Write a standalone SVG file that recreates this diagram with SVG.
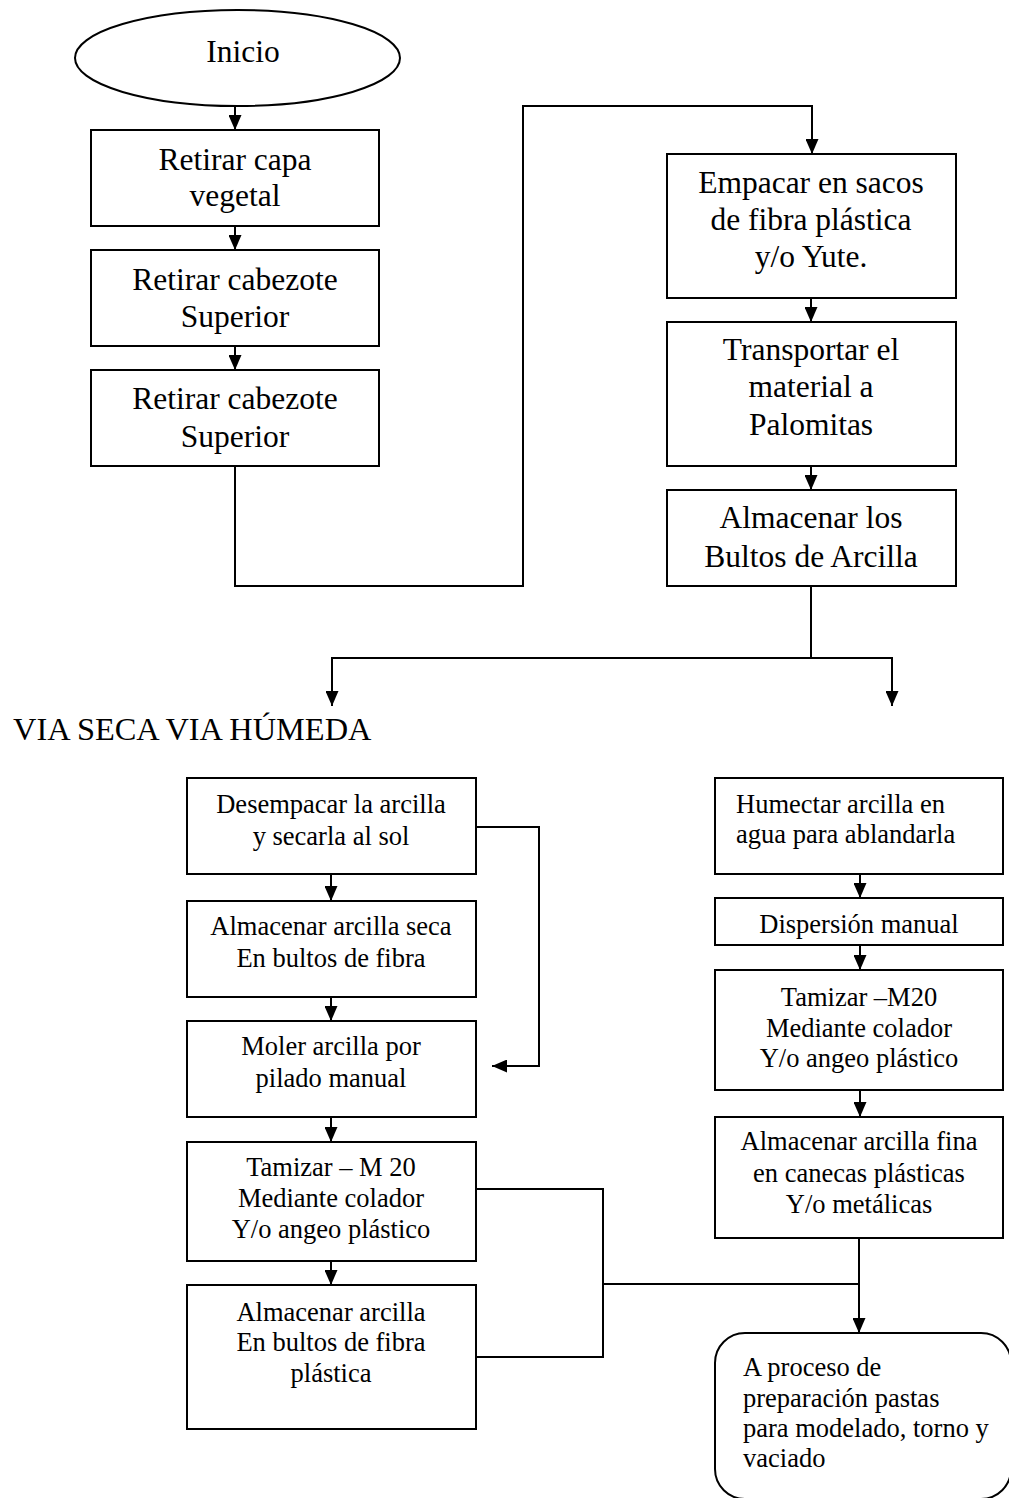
<svg xmlns="http://www.w3.org/2000/svg" width="1009" height="1498" viewBox="0 0 1009 1498">
<defs>
<style>
.b{fill:#fff;stroke:#000;stroke-width:2}
.c{fill:none;stroke:#000;stroke-width:2}
.t{font-family:"Liberation Serif","Times New Roman",serif;fill:#000}
.L{font-size:31.5px;text-anchor:middle}
.S{font-size:26.5px;text-anchor:middle}
.SL{font-size:26.5px}
</style>
<marker id="ah" viewBox="0 0 15 13" refX="15" refY="6.5" markerWidth="15" markerHeight="13" markerUnits="userSpaceOnUse" orient="auto">
<path d="M0,0 L15,6.5 L0,13 z" fill="#000"/>
</marker>
</defs>
<rect width="1009" height="1498" fill="#fff"/>
<g id="connectors">
<path class="c" d="M235,106 V130" marker-end="url(#ah)"/>
<path class="c" d="M235,226 V250" marker-end="url(#ah)"/>
<path class="c" d="M235,346 V370" marker-end="url(#ah)"/>
<path class="c" d="M235,466 V586 H523 V106 H812 V154" marker-end="url(#ah)"/>
<path class="c" d="M811,298 V322" marker-end="url(#ah)"/>
<path class="c" d="M811,466 V490" marker-end="url(#ah)"/>
<path class="c" d="M811,586 V658"/>
<path class="c" d="M811,658 H332 V706" marker-end="url(#ah)"/>
<path class="c" d="M811,658 H892 V706" marker-end="url(#ah)"/>
<path class="c" d="M331,874 V901" marker-end="url(#ah)"/>
<path class="c" d="M331,997 V1021" marker-end="url(#ah)"/>
<path class="c" d="M331,1117 V1142" marker-end="url(#ah)"/>
<path class="c" d="M331,1261 V1285" marker-end="url(#ah)"/>
<path class="c" d="M476,827 H539 V1066 H492" marker-end="url(#ah)"/>
<path class="c" d="M476,1189 H603 V1357 H476"/>
<path class="c" d="M603,1284 H859"/>
<path class="c" d="M859,1238 V1333" marker-end="url(#ah)"/>
<path class="c" d="M860,874 V898" marker-end="url(#ah)"/>
<path class="c" d="M860,945 V970" marker-end="url(#ah)"/>
<path class="c" d="M860,1090 V1117" marker-end="url(#ah)"/>
</g>
<g id="inicio">
<ellipse class="b" cx="237.5" cy="58" rx="162.5" ry="48"/>
<text class="t L" x="243" y="62">Inicio</text>
</g>
<g id="retirar-capa">
<rect class="b" x="91" y="130" width="288" height="96"/>
<text class="t L" x="235" y="170">Retirar capa</text>
<text class="t L" x="235" y="206">vegetal</text>
</g>
<g id="retirar-cabezote-1">
<rect class="b" x="91" y="250" width="288" height="96"/>
<text class="t L" x="235" y="290">Retirar cabezote</text>
<text class="t L" x="235" y="327">Superior</text>
</g>
<g id="retirar-cabezote-2">
<rect class="b" x="91" y="370" width="288" height="96"/>
<text class="t L" x="235" y="409">Retirar cabezote</text>
<text class="t L" x="235" y="447">Superior</text>
</g>
<g id="empacar">
<rect class="b" x="667" y="154" width="289" height="144"/>
<text class="t L" x="811" y="193">Empacar en sacos</text>
<text class="t L" x="811" y="230">de fibra plástica</text>
<text class="t L" x="811" y="267">y/o Yute.</text>
</g>
<g id="transportar">
<rect class="b" x="667" y="322" width="289" height="144"/>
<text class="t L" x="811" y="360">Transportar el</text>
<text class="t L" x="811" y="397">material a</text>
<text class="t L" x="811" y="435">Palomitas</text>
</g>
<g id="almacenar-bultos">
<rect class="b" x="667" y="490" width="289" height="96"/>
<text class="t L" x="811" y="528">Almacenar los</text>
<text class="t L" x="811" y="567">Bultos de Arcilla</text>
</g>
<g id="vias-label">
<text class="t" x="13" y="740" font-size="32.4">VIA SECA VIA HÚMEDA</text>
</g>
<g id="desempacar">
<rect class="b" x="187" y="778" width="289" height="96"/>
<text class="t S" x="331" y="813">Desempacar la arcilla</text>
<text class="t S" x="331" y="845">y secarla al sol</text>
</g>
<g id="almacenar-seca">
<rect class="b" x="187" y="901" width="289" height="96"/>
<text class="t S" x="331" y="935">Almacenar arcilla seca</text>
<text class="t S" x="331" y="967">En bultos de fibra</text>
</g>
<g id="moler">
<rect class="b" x="187" y="1021" width="289" height="96"/>
<text class="t S" x="331" y="1055">Moler arcilla por</text>
<text class="t S" x="331" y="1087">pilado manual</text>
</g>
<g id="tamizar-seca">
<rect class="b" x="187" y="1142" width="289" height="119"/>
<text class="t S" x="331" y="1176">Tamizar – M 20</text>
<text class="t S" x="331" y="1207">Mediante colador</text>
<text class="t S" x="331" y="1238">Y/o angeo plástico</text>
</g>
<g id="almacenar-plastica">
<rect class="b" x="187" y="1285" width="289" height="144"/>
<text class="t S" x="331" y="1321">Almacenar arcilla</text>
<text class="t S" x="331" y="1351">En bultos de fibra</text>
<text class="t S" x="331" y="1382">plástica</text>
</g>
<g id="humectar">
<rect class="b" x="715" y="778" width="288" height="96"/>
<text class="t SL" x="736" y="813">Humectar arcilla en</text>
<text class="t SL" x="736" y="843">agua para ablandarla</text>
</g>
<g id="dispersion">
<rect class="b" x="715" y="898" width="288" height="47"/>
<text class="t S" x="859" y="933">Dispersión manual</text>
</g>
<g id="tamizar-humeda">
<rect class="b" x="715" y="970" width="288" height="120"/>
<text class="t S" x="859" y="1006">Tamizar –M20</text>
<text class="t S" x="859" y="1037">Mediante colador</text>
<text class="t S" x="859" y="1067">Y/o angeo plástico</text>
</g>
<g id="almacenar-fina">
<rect class="b" x="715" y="1117" width="288" height="121"/>
<text class="t S" x="859" y="1150">Almacenar arcilla fina</text>
<text class="t S" x="859" y="1182">en canecas plásticas</text>
<text class="t S" x="859" y="1213">Y/o metálicas</text>
</g>
<g id="proceso-pastas">
<rect class="b" x="715" y="1333" width="296" height="166" rx="30" ry="30"/>
<text class="t SL" x="743" y="1376">A proceso de</text>
<text class="t SL" x="743" y="1407">preparación pastas</text>
<text class="t SL" x="743" y="1437">para modelado, torno y</text>
<text class="t SL" x="743" y="1467">vaciado</text>
</g>
</svg>
